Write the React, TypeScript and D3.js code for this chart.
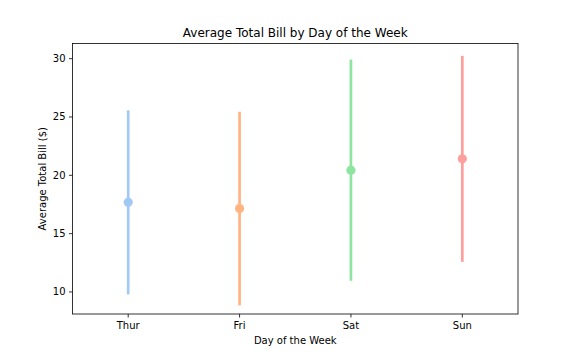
import React from "react";
import * as d3 from "d3";

const days = ["Thur", "Fri", "Sat", "Sun"];
const means = [17.68, 17.15, 20.44, 21.41];
const lows = [9.79, 8.85, 10.96, 12.58];
const highs = [25.57, 25.45, 29.92, 30.24];
const colors = ["#a1c9f4", "#ffb482", "#8de5a1", "#ff9f9b"];
const yTicks = [10, 15, 20, 25, 30];

const W = 576, H = 360;
const M = { left: 72.5, right: 518, top: 43.5, bottom: 314 };

export default function App() {
  const x = d3.scalePoint<string>().domain(days).range([M.left, M.right]).padding(0.5);
  const y = d3.scaleLinear().domain([8.11, 31.3]).range([M.bottom, M.top]);
  const font = "DejaVu Sans, sans-serif";
  return (
    <svg width={W} height={H} style={{ position: "absolute", left: 0, top: 0, background: "#fff" }} fontFamily={font}>
      <rect x={0} y={0} width={W} height={H} fill="#fff" />
      {days.map((d, i) => (
        <g key={d}>
          <line x1={x(d)} x2={x(d)} y1={y(lows[i])} y2={y(highs[i])} stroke={colors[i]} strokeWidth={2.7} />
          <circle cx={x(d)} cy={y(means[i])} r={4.6} fill={colors[i]} />
        </g>
      ))}
      <rect x={M.left} y={M.top} width={M.right - M.left} height={M.bottom - M.top} fill="none" stroke="#000" strokeWidth={0.8} />
      {yTicks.map((t) => (
        <g key={t}>
          <line x1={M.left - 3.5} x2={M.left} y1={y(t)} y2={y(t)} stroke="#000" strokeWidth={0.8} />
          <text x={M.left - 7} y={y(t)} dy="0.35em" textAnchor="end" fontSize={10} fill="#000">{t}</text>
        </g>
      ))}
      {days.map((d) => (
        <g key={d}>
          <line x1={x(d)} x2={x(d)} y1={M.bottom} y2={M.bottom + 3.5} stroke="#000" strokeWidth={0.8} />
          <text x={x(d)} y={M.bottom + 15} textAnchor="middle" fontSize={10} fill="#000">{d}</text>
        </g>
      ))}
      <text x={(M.left + M.right) / 2} y={37} textAnchor="middle" fontSize={12} fill="#000">Average Total Bill by Day of the Week</text>
      <text x={(M.left + M.right) / 2} y={344} textAnchor="middle" fontSize={10} fill="#000">Day of the Week</text>
      <text transform={`translate(46,${(M.top + M.bottom) / 2}) rotate(-90)`} textAnchor="middle" fontSize={10} fill="#000">Average Total Bill ($)</text>
    </svg>
  );
}
